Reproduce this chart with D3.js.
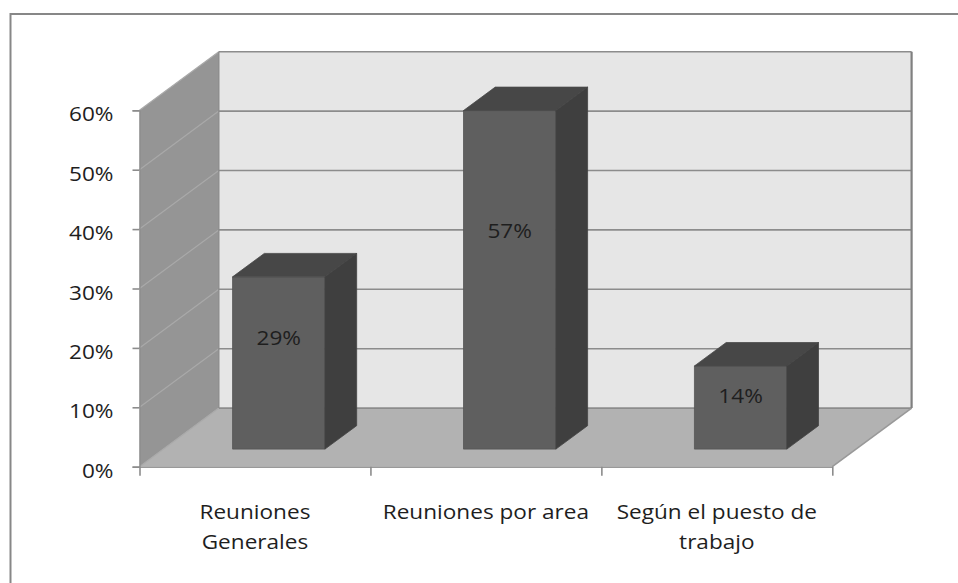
<!DOCTYPE html>
<html>
<head>
<meta charset="utf-8">
<script src="https://cdn.jsdelivr.net/npm/d3@7/dist/d3.min.js"></script>
<style>
  html, body { margin: 0; padding: 0; background: #ffffff; overflow: hidden; }
  svg { display: block; }
</style>
</head>
<body>
<svg id="chart" width="958" height="583"></svg>
<script>
// Category labels (one entry per line), values in percent, axis ticks
const categories = ["Reuniones Generales", "Reuniones por area", "Según el puesto de trabajo"];
const categoryLines = [["Reuniones", "Generales"], ["Reuniones por area"], ["Según el puesto de", "trabajo"]];
const values = [29, 57, 14];
const yTicks = [0, 10, 20, 30, 40, 50, 60];
const yTickLabels = ["0%", "10%", "20%", "30%", "40%", "50%", "60%"];

// Layout of the oblique 3D box
const plot = { left: 139.5, right: 832.3, bottom: 466.7, top: 110.3 };
const depth = { dx: 79.3, dy: -58.6 };   // offset from front plane to back wall
const barDepth = [0.3, 0.7];             // bar front/back as fraction of depth
const fontFamily = "'Open Sans', 'Noto Sans', sans-serif";
const fontSize = 20;
const stretch = 1.13;                    // horizontal widening of the text
const textColor = "#1e1e1e";

const svg = d3.select("#chart");

const y = d3.scaleLinear().domain([0, 60]).range([plot.bottom, plot.top]);
const x = d3.scaleBand().domain(categories).range([plot.left, plot.right])
  .paddingInner(0.6).paddingOuter(0.3);
const edge = d3.scaleLinear().domain([0, categories.length]).range([plot.left, plot.right]);

// project a front-plane x, a value and a depth fraction to screen coordinates
const P = (px, v, d) => [px + d * depth.dx, y(v) + d * depth.dy];
const poly = pts => "M" + pts.map(p => p.join(",")).join("L") + "Z";

// outer chart frame
svg.append("rect")
  .attr("x", 10.5).attr("y", 14).attr("width", 1000).attr("height", 700)
  .attr("fill", "none").attr("stroke", "#878787").attr("stroke-width", 2);

const yMax = y.domain()[1];

// back wall
svg.append("path")
  .attr("d", poly([P(plot.left, 0, 1), P(plot.right, 0, 1), P(plot.right, yMax, 1), P(plot.left, yMax, 1)]))
  .attr("fill", "#e6e6e6");

// left side wall
svg.append("path")
  .attr("d", poly([P(plot.left, 0, 0), P(plot.left, 0, 1), P(plot.left, yMax, 1), P(plot.left, yMax, 0)]))
  .attr("fill", "#959595");

// floor
svg.append("path")
  .attr("d", poly([P(plot.left, 0, 0), P(plot.right, 0, 0), P(plot.right, 0, 1), P(plot.left, 0, 1)]))
  .attr("fill", "#b2b2b2");

// gridlines on the back wall
svg.append("g").selectAll("line").data(yTicks).join("line")
  .attr("x1", d => P(plot.left, d, 1)[0]).attr("y1", d => P(plot.left, d, 1)[1])
  .attr("x2", d => P(plot.right, d, 1)[0]).attr("y2", d => P(plot.right, d, 1)[1])
  .attr("stroke", "#8c8c8c").attr("stroke-width", 1.6);

// gridlines on the side wall
svg.append("g").selectAll("line").data(yTicks).join("line")
  .attr("x1", d => P(plot.left, d, 0)[0]).attr("y1", d => P(plot.left, d, 0)[1])
  .attr("x2", d => P(plot.left, d, 1)[0]).attr("y2", d => P(plot.left, d, 1)[1])
  .attr("stroke", "#a9a9a9").attr("stroke-width", 1.2);

// back wall vertical edges
svg.append("line")
  .attr("x1", P(plot.left, 0, 1)[0]).attr("y1", P(plot.left, 0, 1)[1])
  .attr("x2", P(plot.left, yMax, 1)[0]).attr("y2", P(plot.left, yMax, 1)[1])
  .attr("stroke", "#8c8c8c").attr("stroke-width", 1.4);
svg.append("line")
  .attr("x1", P(plot.right, 0, 1)[0]).attr("y1", P(plot.right, 0, 1)[1])
  .attr("x2", P(plot.right, yMax, 1)[0]).attr("y2", P(plot.right, yMax, 1)[1])
  .attr("stroke", "#808080").attr("stroke-width", 2.2);

// floor right edge
svg.append("line")
  .attr("x1", P(plot.right, 0, 0)[0]).attr("y1", P(plot.right, 0, 0)[1])
  .attr("x2", P(plot.right, 0, 1)[0]).attr("y2", P(plot.right, 0, 1)[1])
  .attr("stroke", "#999999").attr("stroke-width", 1.6);

// bars
const bars = svg.append("g").selectAll("g").data(values).join("g");
const d0 = barDepth[0], d1 = barDepth[1];
bars.append("path") // front
  .attr("d", (v, i) => {
    const a = x(categories[i]), b = a + x.bandwidth();
    return poly([P(a, 0, d0), P(b, 0, d0), P(b, v, d0), P(a, v, d0)]);
  })
  .attr("fill", "#5f5f5f").attr("stroke", "#555555").attr("stroke-width", 0.8);
bars.append("path") // top
  .attr("d", (v, i) => {
    const a = x(categories[i]), b = a + x.bandwidth();
    return poly([P(a, v, d0), P(b, v, d0), P(b, v, d1), P(a, v, d1)]);
  })
  .attr("fill", "#474747").attr("stroke", "#4a4a4a").attr("stroke-width", 0.8);
bars.append("path") // right side
  .attr("d", (v, i) => {
    const b = x(categories[i]) + x.bandwidth();
    return poly([P(b, 0, d0), P(b, 0, d1), P(b, v, d1), P(b, v, d0)]);
  })
  .attr("fill", "#3f3f3f").attr("stroke", "#444444").attr("stroke-width", 0.8);

// value labels on the bar fronts
bars.append("text")
  .attr("transform", (v, i) => {
    const cx = x(categories[i]) + x.bandwidth() / 2;
    const p = P(cx, v * 0.645, d0);
    return `translate(${p[0]},${p[1]}) scale(${stretch},1)`;
  })
  .attr("dy", "0.36em")
  .attr("text-anchor", "middle")
  .attr("font-family", fontFamily).attr("font-size", fontSize)
  .attr("fill", textColor)
  .text(v => v + "%");

// value axis
const yAxis = svg.append("g")
  .attr("transform", `translate(${plot.left},0)`)
  .call(d3.axisLeft(y).tickValues(yTicks).tickSize(7).tickPadding(19)
    .tickFormat((d, i) => yTickLabels[i]));
yAxis.select(".domain").attr("stroke", "#8c8c8c").attr("stroke-width", 1.2);
yAxis.selectAll(".tick line").attr("stroke", "#8c8c8c").attr("stroke-width", 1.6);
yAxis.selectAll(".tick text")
  .attr("x", -26 / stretch)
  .attr("dy", "0.53em")
  .attr("transform", `scale(${stretch},1)`)
  .attr("font-family", fontFamily).attr("font-size", fontSize)
  .attr("fill", textColor);

// category axis: floor front edge with boundary ticks
const xAxis = svg.append("g")
  .attr("transform", `translate(0,${plot.bottom})`)
  .call(d3.axisBottom(edge).tickValues(d3.range(categories.length + 1))
    .tickSize(9).tickSizeOuter(0).tickFormat(""));
xAxis.select(".domain").attr("stroke", "#999999").attr("stroke-width", 1.6);
xAxis.selectAll(".tick line").attr("stroke", "#8c8c8c").attr("stroke-width", 1.6);

// category labels
const catLabels = svg.append("g").selectAll("text").data(categoryLines).join("text")
  .attr("transform", (lines, i) => `translate(${edge(i + 0.5)},519.3) scale(${stretch},1)`)
  .attr("text-anchor", "middle")
  .attr("font-family", fontFamily).attr("font-size", fontSize)
  .attr("fill", textColor);
catLabels.selectAll("tspan").data(d => d).join("tspan")
  .attr("x", 0)
  .attr("y", (d, j) => j * 30)
  .text(d => d);
</script>
</body>
</html>
